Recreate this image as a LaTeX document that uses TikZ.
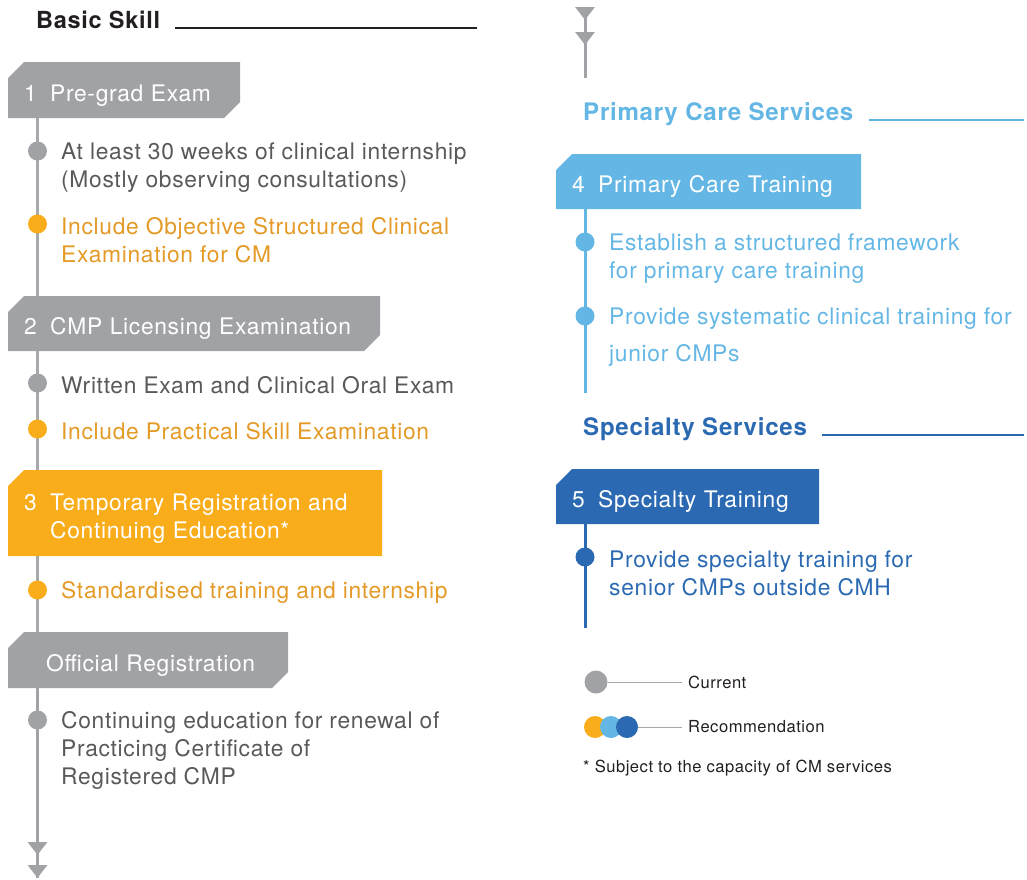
\documentclass[tikz,border=0pt]{standalone}
\usepackage{fontspec}
\setmainfont[LetterSpace=3]{TeX Gyre Heros}
\usetikzlibrary{arrows.meta, positioning, shapes.misc}

\definecolor{cmgray}{HTML}{A1A2A6}
\definecolor{cmline}{HTML}{A7A8AB}
\definecolor{cmtext}{HTML}{58595B}
\definecolor{cmyellow}{HTML}{F9AD1B}
\definecolor{cmorange}{HTML}{E39A26}
\definecolor{cmlight}{HTML}{64B7E5}
\definecolor{cmdark}{HTML}{2B6AB2}
\definecolor{cmblack}{HTML}{231F20}

\newcommand{\stepno}[1]{\makebox[26pt][l]{#1}}

\begin{document}
\begin{tikzpicture}[
    x=1pt, y=-1pt,
    banner/.style={chamfered rectangle, chamfered rectangle xsep=8pt, chamfered rectangle ysep=8pt,
        inner xsep=8pt, inner ysep=4pt, anchor=west, align=left, text=white,
        text height=22pt, text depth=0pt, font=\fontsize{22.8}{28}\selectfont},
    cutboth/.style={chamfered rectangle corners={north west, south east}},
    cutone/.style={chamfered rectangle corners={north west}},
    dot/.style={circle, inner sep=0pt, minimum size=19pt},
    item/.style={anchor=west, align=left, inner sep=0pt, font=\fontsize{22.8}{28}\selectfont},
    head/.style={anchor=base west, inner sep=0pt, font=\fontsize{24.1}{28}\selectfont\bfseries},
    rule/.style={line width=1.5pt},
    spine/.style={line width=3pt},
    tip/.style={-{Triangle[width=19pt, length=13pt]}},
    legend/.style={anchor=west, inner sep=0pt, text=cmblack, font=\fontsize{16.6}{20}\selectfont}
]
    \useasboundingbox (0,0) rectangle (1027,879);

    % Basic skill column
    \coordinate (sp) at (37.5,0);
    \node[head, text=cmblack, font=\fontsize{23.5}{28}\selectfont\bfseries] (basic) at (36,28) {Basic Skill};
    \coordinate (basicEnd) at (477,28);
    \draw[rule, cmblack] ([xshift=15pt]basic.base east) -- (basicEnd);

    \node[banner, cutboth, fill=cmgray, text width=200pt, minimum height=56pt] (b1) at (8,90)
        {\stepno{1}\mbox{Pre-grad Exam}};
    \node[banner, cutboth, fill=cmgray, text width=340pt, minimum height=55pt] (b2) at (8,323.5)
        {\stepno{2}\mbox{CMP Licensing Examination}};
    \node[banner, cutone, fill=cmyellow, text width=342pt, minimum height=86pt, text depth=28pt] (b3) at (8,513)
        {\stepno{3}\mbox{Temporary Registration and}\\\hspace*{26pt}\mbox{Continuing Education*}};
    \node[banner, cutboth, fill=cmgray, text width=248pt, minimum height=56pt] (b4) at (8,660)
        {\hspace*{22pt}\mbox{Official Registration}};

    \coordinate (leftMid) at (37.5,855);
    \coordinate (leftEnd) at (37.5,878);
    \draw[spine, cmline] (b1.south -| sp) -- (b2.north -| sp);
    \draw[spine, cmline] (b2.south -| sp) -- (b3.north -| sp);
    \draw[spine, cmline] (b3.south -| sp) -- (b4.north -| sp);
    \draw[spine, cmline] (b4.south -| sp) -- (leftEnd);
    \draw[spine, cmgray, tip] (b4.south -| sp) -- (leftMid);
    \draw[spine, cmgray, tip] (b4.south -| sp) -- (leftEnd);

    % Items under each step
    \node[dot, fill=cmgray] (d1) at (37.5,151) {};
    \node[item, text=cmtext] (t1) at (61,167.2)
        {At least 30 weeks of clinical internship\\(Mostly observing consultations)};
    \node[dot, fill=cmyellow] (d2) at (37.5,224) {};
    \node[item, text=cmorange] (t2) at (61,240.2)
        {Include Objective Structured Clinical\\Examination for CM};
    \node[dot, fill=cmgray] (d3) at (37.5,383) {};
    \node[item, text=cmtext] (t3) at (61,385.3) {Written Exam and Clinical Oral Exam};
    \node[dot, fill=cmyellow] (d4) at (37.5,429) {};
    \node[item, text=cmorange] (t4) at (61,431.3) {Include Practical Skill Examination};
    \node[dot, fill=cmyellow] (d5) at (37.5,590) {};
    \node[item, text=cmorange] (t5) at (61,592.3) {Standardised training and internship};
    \node[dot, fill=cmgray] (d6) at (37.5,720) {};
    \node[item, text=cmtext] (t6) at (61,750.2)
        {Continuing education for renewal of\\Practicing Certificate of\\Registered CMP};

    % Continuation arrows
    \coordinate (topStart) at (585,7);
    \coordinate (topA) at (585,20);
    \coordinate (topB) at (585,45);
    \coordinate (topEnd) at (585,78);
    \draw[spine, cmgray] (topStart) -- (topEnd);
    \draw[spine, cmgray, tip] (topStart) -- (topA);
    \draw[spine, cmgray, tip] (topStart) -- (topB);

    % Primary care services
    \node[head, text=cmlight] (primary) at (583,120) {Primary Care Services};
    \coordinate (primaryEnd) at (1024,120);
    \draw[rule, cmlight] ([xshift=15pt]primary.base east) -- (primaryEnd);

    \node[banner, cutone, fill=cmlight, text width=273pt, minimum height=55pt] (b5) at (556,181.5)
        {\stepno{4}\mbox{Primary Care Training}};
    \coordinate (lightEnd) at (585,393);
    \draw[spine, cmlight] (b5.south -| topEnd) -- (lightEnd);

    \node[dot, fill=cmlight] (d7) at (585,242) {};
    \node[item, text=cmlight] (t7) at (609,258.2)
        {Establish a structured framework\\for primary care training};
    \node[dot, fill=cmlight] (d8) at (585,316) {};
    \node[item, text=cmlight] (t8) at (609,336.7)
        {Provide systematic clinical training for\\[9pt]junior CMPs};

    % Specialty services
    \node[head, text=cmdark] (special) at (583,435) {Specialty Services};
    \coordinate (specialEnd) at (1024,435);
    \draw[rule, cmdark] ([xshift=15pt]special.base east) -- (specialEnd);

    \node[banner, cutone, fill=cmdark, text width=231pt, minimum height=55pt] (b6) at (556,496.5)
        {\stepno{5}\mbox{Specialty Training}};
    \coordinate (darkEnd) at (585,628);
    \draw[spine, cmdark] (b6.south -| topEnd) -- (darkEnd);

    \node[dot, fill=cmdark] (d9) at (585,557) {};
    \node[item, text=cmdark] (t9) at (609,573.2)
        {Provide specialty training for\\senior CMPs outside CMH};

    % Legend
    \node[dot, minimum size=23pt, fill=cmgray] (lgCur) at (596,682) {};
    \node[legend] (lgCurTxt) at (688,682) {Current};
    \draw[cmline, line width=1pt] (lgCur.east) -- ([xshift=-6pt]lgCurTxt.west);

    \node[dot, minimum size=22pt, fill=cmyellow] (lgRecA) at (595,727) {};
    \node[dot, minimum size=22pt, fill=cmlight] (lgRecB) at (611,727) {};
    \node[dot, minimum size=22pt, fill=cmdark] (lgRecC) at (627,727) {};
    \node[legend] (lgRecTxt) at (688,727) {Recommendation};
    \draw[cmline, line width=1pt] (lgRecC.east) -- ([xshift=-6pt]lgRecTxt.west);

    \node[legend] (note) at (583,768) {* Subject to the capacity of CM services};
\end{tikzpicture}
\end{document}
